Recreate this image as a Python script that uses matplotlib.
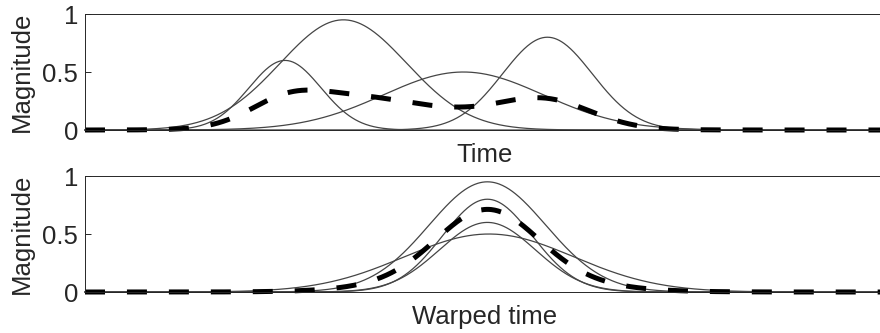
import matplotlib

matplotlib.use('Agg')
import matplotlib.pyplot as plt
import numpy as np

plt.rcParams['font.family'] = ['Liberation Sans', 'DejaVu Sans']
plt.rcParams['lines.scale_dashes'] = False

# gaussian components: peak height, centre and width (time units 0-100)
amp_time = [0.60, 0.95, 0.50, 0.80]
centre_time = [25.0, 32.3, 47.3, 57.8]
width_time = [4.5, 7.9, 10.0, 5.6]

amp_warped = [0.60, 0.95, 0.50, 0.80]
centre_warped = [50.3, 50.3, 50.5, 50.3]
width_warped = [6.0, 7.3, 10.6, 5.6]

t = np.linspace(0, 100, 1001)
text_col = '#262626'
curve_col = '#454545'


def component(a, c, w):
    return a * np.exp(-(t - c) ** 2 / (2 * w ** 2))


def draw_panel(ax, amps, centres, widths, xlabel):
    curves = [component(a, c, w) for a, c, w in zip(amps, centres, widths)]
    for y in curves:
        ax.plot(t, y, color=curve_col, lw=0.9, clip_on=False)
    mean = np.mean(curves, axis=0)
    ax.plot(t, mean, color='black', lw=3.6, dashes=[14.4, 15.8], clip_on=False)

    ax.set_xlim(0, 100)
    ax.set_ylim(0, 1)
    ax.set_xticks([])
    ax.set_yticks([0, 0.5, 1])
    ax.set_yticklabels(['0', '0.5', '1'])
    ax.tick_params(axis='y', direction='in', length=4.5, width=0.7,
                   labelsize=18.5, colors=text_col, pad=5)
    for s in ax.spines.values():
        s.set_color(text_col)
        s.set_linewidth(0.7)
    ax.set_ylabel('Magnitude', fontsize=18.5, color=text_col, labelpad=6)
    ax.set_xlabel(xlabel, fontsize=18.5, color=text_col, labelpad=9)


fig = plt.figure(figsize=(8.8, 3.33), dpi=100)
ax_top = fig.add_axes([85 / 880, 0.6096, 800 / 880, 0.3483])
ax_bot = fig.add_axes([85 / 880, 0.1231, 800 / 880, 0.3483])

draw_panel(ax_top, amp_time, centre_time, width_time, 'Time')
draw_panel(ax_bot, amp_warped, centre_warped, width_warped, 'Warped time')

fig.savefig('out.png', dpi=100)
